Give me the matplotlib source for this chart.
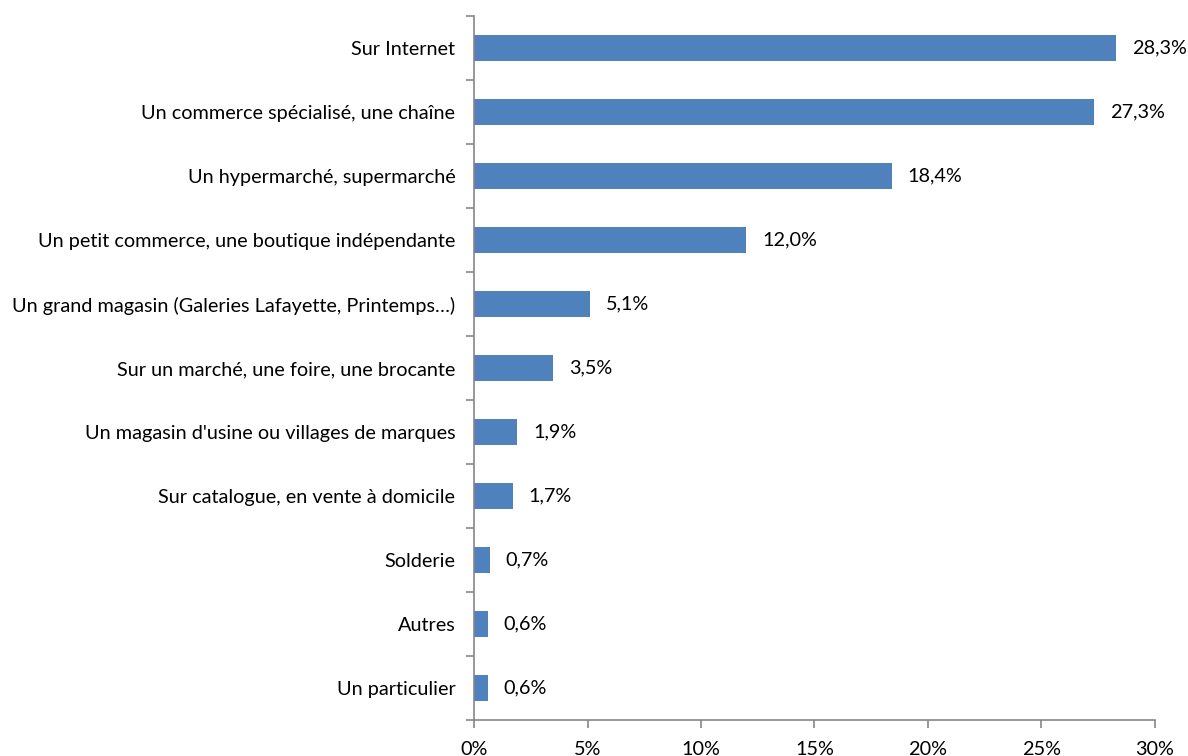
import matplotlib

matplotlib.use("Agg")
import matplotlib.pyplot as plt
from matplotlib.ticker import FixedLocator, FuncFormatter

# Where purchases are made (share of respondents, %)
categories = [
    "Sur Internet",
    "Un commerce spécialisé, une chaîne",
    "Un hypermarché, supermarché",
    "Un petit commerce, une boutique indépendante",
    "Un grand magasin (Galeries Lafayette, Printemps…)",
    "Sur un marché, une foire, une brocante",
    "Un magasin d'usine ou villages de marques",
    "Sur catalogue, en vente à domicile",
    "Solderie",
    "Autres",
    "Un particulier",
]
values = [28.3, 27.3, 18.4, 12.0, 5.1, 3.5, 1.9, 1.7, 0.7, 0.6, 0.6]
x_ticks = [0, 5, 10, 15, 20, 25, 30]

BAR_COLOR = "#4F81BD"
AXIS_COLOR = "#868686"
FS = 14.3

plt.rcParams["font.family"] = ["Lato", "DejaVu Sans"]

fig = plt.figure(figsize=(11.88, 7.56), dpi=100)
ax = fig.add_axes([0.399, 0.0476, 0.9722 - 0.399, 0.9788 - 0.0476])

n = len(categories)
ypos = list(range(n))[::-1]
ax.barh(ypos, values, height=0.4, color=BAR_COLOR)

for y, v in zip(ypos, values):
    ax.text(v + 0.7, y, f"{v:.1f}%".replace(".", ","), va="center", ha="left",
            fontsize=FS, color="black")

ax.set_xlim(0, 30)
ax.set_ylim(-0.5, n - 0.5)

ax.set_yticks(ypos)
ax.set_yticklabels(categories)
ax.yaxis.set_minor_locator(FixedLocator([i - 0.5 for i in range(n + 1)]))
ax.tick_params(axis="y", which="major", length=0, pad=13.5, labelsize=FS)
ax.tick_params(axis="y", which="minor", length=6, width=1.2, color=AXIS_COLOR)

ax.set_xticks(x_ticks)
ax.xaxis.set_major_formatter(FuncFormatter(lambda v, _: f"{v:.0f}%"))
ax.tick_params(axis="x", which="major", length=6, width=1.2, color=AXIS_COLOR,
               pad=9, labelsize=FS)

for side in ("top", "right"):
    ax.spines[side].set_visible(False)
for side in ("left", "bottom"):
    ax.spines[side].set_color(AXIS_COLOR)
    ax.spines[side].set_linewidth(1.2)

fig.savefig("out.png", dpi=100)
